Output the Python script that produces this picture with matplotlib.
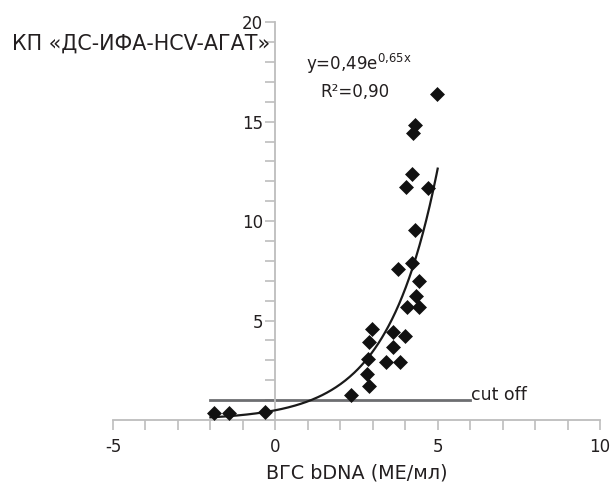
import numpy as np
import matplotlib
matplotlib.use("Agg")
import matplotlib.pyplot as plt
from matplotlib.ticker import MultipleLocator, FixedLocator

plt.rcParams['font.family'] = ['DejaVu Sans']
plt.rcParams['axes.unicode_minus'] = False

# data points (x = ВГС bDNA, y = КП)
x_vals = [-1.90, -1.44, -0.33, 2.34, 2.89, 2.81, 2.85, 2.89, 2.97, 3.40, 3.62,
          3.62, 3.83, 3.98, 3.77, 4.20, 4.41, 4.32, 4.04, 4.41, 4.29,
          4.98, 4.31, 4.23, 4.20, 4.02, 4.70]
y_vals = [0.34, 0.34, 0.42, 1.26, 1.72, 2.31, 3.07, 3.94, 4.57, 2.93, 3.68,
          4.41, 2.93, 4.22, 7.59, 7.87, 6.98, 6.25, 5.69, 5.66, 9.55,
          16.38, 14.82, 14.44, 12.35, 11.69, 11.67]

# exponential trendline y = a*exp(b*x)
fit_a = 0.49
fit_b = 0.65
fit_range = (-2.0, 5.0)

cutoff_value = 1.0
cutoff_range = (-2.0, 6.0)

x_ticks = [-5, 0, 5, 10]
y_ticks = [5, 10, 15, 20]

fig = plt.figure(figsize=(6.11, 4.82), dpi=100)
ax = fig.add_axes([0.185, 0.1286, 0.797, 0.8254])

text_color = '#231f20'
spine_color = '#bdbdbd'

xf = np.linspace(fit_range[0], fit_range[1], 200)
ax.plot(xf, fit_a * np.exp(fit_b * xf), color='#1a1a1a', lw=1.6, zorder=3)

ax.plot(list(cutoff_range), [cutoff_value, cutoff_value], color='#6d6e71', lw=2.0, zorder=2)
ax.text(cutoff_range[1] + 0.03, cutoff_value + 0.25, 'cut off', fontsize=12.5,
        color=text_color, ha='left', va='center')

ax.scatter(x_vals, y_vals, marker='D', s=58, color='#111111', zorder=4, linewidths=0)

ax.set_xlim(-5, 10)
ax.set_ylim(0, 20)

for s in ['top', 'right']:
    ax.spines[s].set_visible(False)
ax.spines['left'].set_position(('data', 0))
ax.spines['left'].set_color(spine_color)
ax.spines['bottom'].set_color(spine_color)
ax.spines['left'].set_linewidth(1.3)
ax.spines['bottom'].set_linewidth(1.3)

ax.xaxis.set_major_locator(FixedLocator(x_ticks))
ax.xaxis.set_minor_locator(MultipleLocator(1))
ax.yaxis.set_major_locator(FixedLocator(y_ticks))
ax.yaxis.set_minor_locator(MultipleLocator(1))
ax.tick_params(axis='both', which='both', direction='out', length=7, width=1.2,
               color=spine_color, labelsize=12, labelcolor=text_color)
ax.tick_params(axis='x', pad=6)
ax.tick_params(axis='y', pad=2)

ax.set_xlabel('ВГС bDNA (МЕ/мл)', fontsize=13.8, color=text_color, labelpad=5)

fig.text(12 / 611, 1 - 50 / 482, 'КП «ДС-ИФА-HCV-АГАТ»', fontsize=14.9,
         color=text_color, ha='left', va='baseline')

ax.text(0.95, 17.9, r'y=0,49e$^{\mathregular{0{,}65x}}$', fontsize=12, color=text_color,
        ha='left', va='center')
ax.text(1.4, 16.5, 'R²=0,90', fontsize=12, color=text_color, ha='left', va='center')

fig.savefig('out.png', dpi=100)
